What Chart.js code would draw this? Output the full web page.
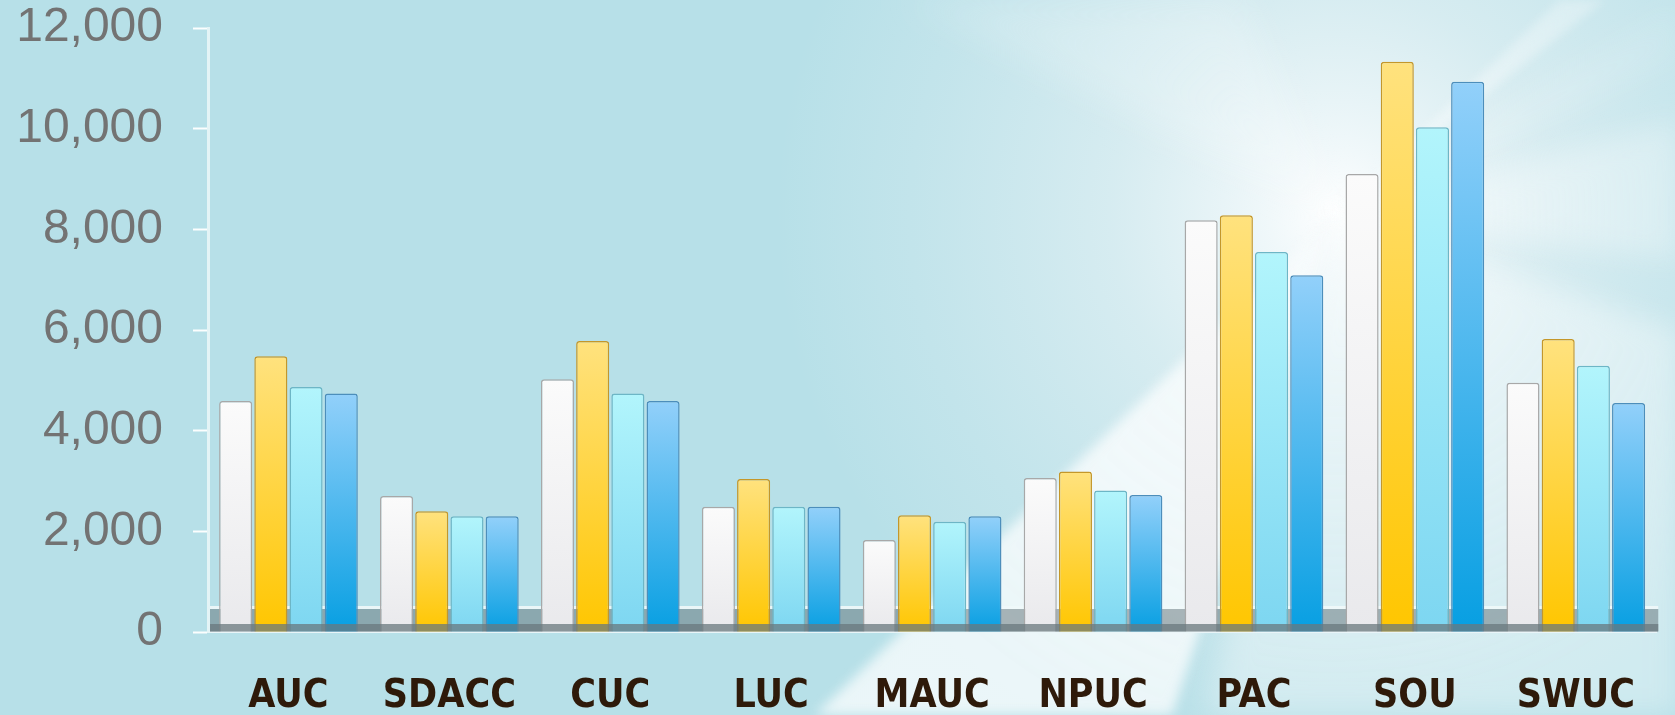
<!DOCTYPE html>
<html>
<head>
<meta charset="utf-8">
<script src="https://cdn.jsdelivr.net/npm/chart.js@4/dist/chart.umd.min.js"></script>
<style>
  html, body { margin: 0; padding: 0; background: #b7e0e8; overflow: hidden; }
  #wrap { width: 1675px; height: 715px; overflow: hidden; position: relative; }
  canvas { display: block; }
</style>
</head>
<body>
<div id="wrap"><canvas id="c" width="1680" height="715" style="width:1680px;height:715px"></canvas></div>
<script>
// ---- data ----
const categories = ['AUC', 'SDACC', 'CUC', 'LUC', 'MAUC', 'NPUC', 'PAC', 'SOU', 'SWUC'];
const seriesWhite  = [4590, 2700, 5020, 2490, 1830, 3060, 8180, 9100, 4950];
const seriesYellow = [5480, 2400, 5780, 3040, 2320, 3190, 8280, 11330, 5820];
const seriesCyan   = [4870, 2300, 4740, 2490, 2190, 2810, 7550, 10030, 5290];
const seriesBlue   = [4740, 2300, 4590, 2490, 2300, 2720, 7090, 10930, 4550];
const yMin = 0, yMax = 12000, yStep = 2000;

// ---- styling helpers ----
function barGradient(top, bottom) {
  return function (ctx) {
    const chart = ctx.chart;
    const ys = chart.scales && chart.scales.y;
    if (!chart.chartArea || !ys || ctx.raw == null) return bottom;
    const yTop = ys.getPixelForValue(ctx.raw);
    const yBot = ys.getPixelForValue(0);
    const g = chart.ctx.createLinearGradient(0, yTop, 0, yBot);
    g.addColorStop(0, top);
    g.addColorStop(1, bottom);
    return g;
  };
}

const bgPlugin = {
  id: 'bg',
  beforeDraw(chart) {
    const c = chart.ctx, W = chart.width, H = chart.height;
    c.save();
    c.fillStyle = '#b7e0e8';
    c.fillRect(0, 0, W, H);
    const cx = 1335, cy = 214;
    function wedge(pts, a0, a1, r, blur) {
      c.save();
      c.filter = 'blur(' + blur + 'px)';
      const g = c.createRadialGradient(cx, cy, 0, cx, cy, r);
      g.addColorStop(0, 'rgba(247,251,252,' + a0 + ')');
      g.addColorStop(1, 'rgba(247,251,252,' + a1 + ')');
      c.fillStyle = g;
      c.beginPath();
      c.moveTo(cx, cy);
      pts.forEach(p => c.lineTo(p[0], p[1]));
      c.closePath();
      c.fill();
      c.restore();
    }
    // glow
    c.save();
    const rg = c.createRadialGradient(cx, cy, 0, cx, cy, 560);
    rg.addColorStop(0, 'rgba(255,255,255,1)');
    rg.addColorStop(0.12, 'rgba(250,252,253,0.85)');
    rg.addColorStop(0.4, 'rgba(240,246,248,0.55)');
    rg.addColorStop(0.75, 'rgba(235,243,246,0.22)');
    rg.addColorStop(1, 'rgba(235,243,246,0)');
    c.fillStyle = rg;
    c.fillRect(0, 0, W, H);
    c.restore();
    // rays
    wedge([[815, 715], [1172, 715]], 0.92, 0.8, 560, 6);
    wedge([[1205, 715], [1680, 715], [1680, 330]], 0.55, 0.38, 500, 14);
    wedge([[1680, 120], [1680, 260]], 0.55, 0.3, 400, 14);
    wedge([[1560, 0], [1605, 0]], 0.6, 0.35, 320, 5);
    wedge([[900, 0], [1240, 0]], 0.38, 0.18, 420, 18);
    wedge([[1680, 0], [1680, 60]], 0.3, 0.1, 400, 14);
    c.restore();
  },
  beforeDatasetsDraw(chart) {
    const c = chart.ctx, a = chart.chartArea;
    c.save();
    c.fillStyle = 'rgba(240,248,250,0.9)';
    c.fillRect(a.left + 2, a.bottom - 26, a.right - a.left, 3);
    c.fillStyle = 'rgba(95,112,118,0.5)';
    c.fillRect(a.left + 2, a.bottom - 23, a.right - a.left, 23);
    c.restore();
  },
  afterDatasetsDraw(chart) {
    const c = chart.ctx, a = chart.chartArea;
    c.save();
    c.fillStyle = 'rgba(105,120,126,0.75)';
    c.fillRect(a.left + 2, a.bottom - 8, a.right - a.left, 7);
    c.restore();
  }
};

new Chart(document.getElementById('c'), {
  type: 'bar',
  data: {
    labels: categories,
    datasets: [
      { label: 'S1', data: seriesWhite,  backgroundColor: barGradient('#fbfbfb', '#e9e9ec'), borderColor: '#a8a8a8', borderWidth: 1.5 },
      { label: 'S2', data: seriesYellow, backgroundColor: barGradient('#ffe27e', '#ffc600'), borderColor: '#c4972a', borderWidth: 1.5 },
      { label: 'S3', data: seriesCyan,   backgroundColor: barGradient('#b2f5fc', '#7dd6f1'), borderColor: '#6db6c6', borderWidth: 1.5 },
      { label: 'S4', data: seriesBlue,   backgroundColor: barGradient('#92d0fa', '#079fe2'), borderColor: '#4c8ebb', borderWidth: 1.5 }
    ]
  },
  options: {
    responsive: false,
    animation: false,
    devicePixelRatio: 1,
    layout: { padding: { left: 0, right: 2, top: 28, bottom: 0 } },
    plugins: { legend: { display: false }, tooltip: { enabled: false }, title: { display: false } },
    datasets: { bar: { categoryPercentage: 0.875, barPercentage: 0.94, borderRadius: { topLeft: 3, topRight: 3 } } },
    scales: {
      x: {
        grid: { display: false, drawTicks: false },
        border: { display: true, color: 'rgba(235,246,249,0.95)', width: 2 },
        ticks: {
          color: '#2e1a0a',
          padding: 45,
          font: { family: '"DejaVu Sans Condensed", "Liberation Sans", sans-serif', size: 39, weight: 'bold', lineHeight: 1 },
          maxRotation: 0, autoSkip: false
        },
        afterFit(s) { s.height = 83; }
      },
      y: {
        min: yMin, max: yMax,
        grid: {
          drawOnChartArea: false, drawTicks: true, tickLength: 45,
          tickBorderDash: [15, 30], tickBorderDashOffset: 15,
          tickColor: 'rgba(255,255,255,0.95)', tickWidth: 2
        },
        border: { display: true, color: 'rgba(230,244,247,0.95)', width: 3 },
        ticks: {
          stepSize: yStep,
          color: '#737373',
          padding: 0,
          font: { family: '"Liberation Sans", Arial, sans-serif', size: 48, lineHeight: 1 },
          callback: v => Number(v).toLocaleString('en-US')
        },
        afterFit(s) { s.width = 208; }
      }
    }
  },
  plugins: [bgPlugin]
});
</script>
</body>
</html>
